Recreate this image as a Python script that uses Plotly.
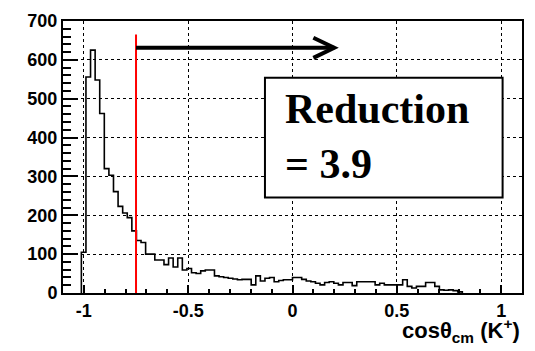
import plotly.graph_objects as go

# ---- data ----
bin_start = -1.012
bin_width = 0.022
counts = [105, 556, 625, 548, 462, 320, 303, 261, 223, 206, 194, 160,
          135, 130, 100, 100, 85, 85, 73, 90, 67, 90, 59, 63, 52, 50,
          57, 59, 59, 44, 42, 40, 38, 36, 34, 35, 35, 21, 44, 31,
          38, 40, 29, 32, 34, 34, 40, 40, 35, 31, 29, 25, 21, 27,
          29, 25, 21, 27, 27, 19, 29, 29, 29, 29, 21, 25, 21, 21,
          21, 21, 34, 17, 13, 17, 17, 27, 27, 17, 8, 7, 8, 6, 3]
x_tick_vals = [-1, -0.5, 0, 0.5, 1]
x_tick_text = ["-1", "-0.5", "0", "0.5", "1"]
y_tick_vals = [0, 100, 200, 300, 400, 500, 600, 700]
cut_x = -0.75
cut_top = 665
arrow_y = 631
arrow_end = 0.2
box_x = [-0.132, 1.007]
box_y = [246, 554]
label_text = "Reduction<br>= 3.9"

# ---- build step outline ----
edges = [bin_start + i * bin_width for i in range(len(counts) + 1)]
xs = [edges[0]] + edges[:-1] + [edges[-1]]
ys = [0] + counts + [0]

fig = go.Figure()
fig.add_trace(go.Scatter(x=xs, y=ys, mode="lines", line_shape="hv",
                         line=dict(color="black", width=1.6),
                         showlegend=False, hoverinfo="skip"))

tickfont = dict(family="Liberation Sans, Arial", size=18, color="black", weight="bold")

fig.update_layout(
    width=535, height=351,
    margin=dict(l=63, r=11, t=16, b=58),
    plot_bgcolor="white", paper_bgcolor="white",
    showlegend=False,
    xaxis=dict(range=[-1.1, 1.1], showline=True, mirror=True, linecolor="black", linewidth=2,
               zeroline=False, showgrid=True, gridcolor="black", griddash="dot", gridwidth=1.2,
               tickmode="array", tickvals=x_tick_vals, ticktext=x_tick_text,
               ticks="inside", ticklen=8, tickwidth=1.5, tickcolor="black",
               tickfont=tickfont,
               minor=dict(tickmode="linear", tick0=0, dtick=0.1, ticks="inside", ticklen=4,
                          tickwidth=1.5, tickcolor="black", showgrid=False)),
    yaxis=dict(range=[0, 700], showline=True, mirror=True, linecolor="black", linewidth=2,
               zeroline=False, showgrid=True, gridcolor="black", griddash="dot", gridwidth=1.2,
               tickmode="array", tickvals=y_tick_vals,
               ticks="inside", ticklen=15, tickwidth=1.5, tickcolor="black",
               tickfont=tickfont,
               minor=dict(tickmode="linear", tick0=0, dtick=20, ticks="inside", ticklen=8,
                          tickwidth=1.5, tickcolor="black", showgrid=False)),
)

# red cut line
fig.add_shape(type="line", x0=cut_x, x1=cut_x, y0=0, y1=cut_top, xref="x", yref="y",
              line=dict(color="red", width=2))
# arrow shaft
fig.add_shape(type="line", x0=cut_x, x1=arrow_end, y0=arrow_y, y1=arrow_y, xref="x", yref="y",
              line=dict(color="black", width=4))
# arrow head (open chevron)
head_dx = 0.1
head_dy = 26
fig.add_shape(type="path", xref="x", yref="y",
              path=f"M {arrow_end - head_dx},{arrow_y + head_dy} L {arrow_end},{arrow_y} L {arrow_end - head_dx},{arrow_y - head_dy}",
              line=dict(color="black", width=4))
# text box
fig.add_shape(type="rect", x0=box_x[0], x1=box_x[1], y0=box_y[0], y1=box_y[1], xref="x", yref="y",
              line=dict(color="black", width=2), fillcolor="white")
fig.add_annotation(x=-0.045, y=404, xref="x", yref="y", text=label_text, showarrow=False,
                   xanchor="left", yanchor="middle", align="left",
                   font=dict(family="Liberation Serif, Times New Roman", size=42, color="black",
                             weight="bold"))
# axis title
fig.add_annotation(x=1, y=0, xref="paper", yref="paper", xanchor="right", yanchor="top",
                   yshift=-20, showarrow=False,
                   text="cosθ<sub>cm</sub> (K<sup>+</sup>)",
                   font=dict(family="Liberation Sans, Arial", size=22, color="black", weight="bold"))

fig.write_html("out.html")
